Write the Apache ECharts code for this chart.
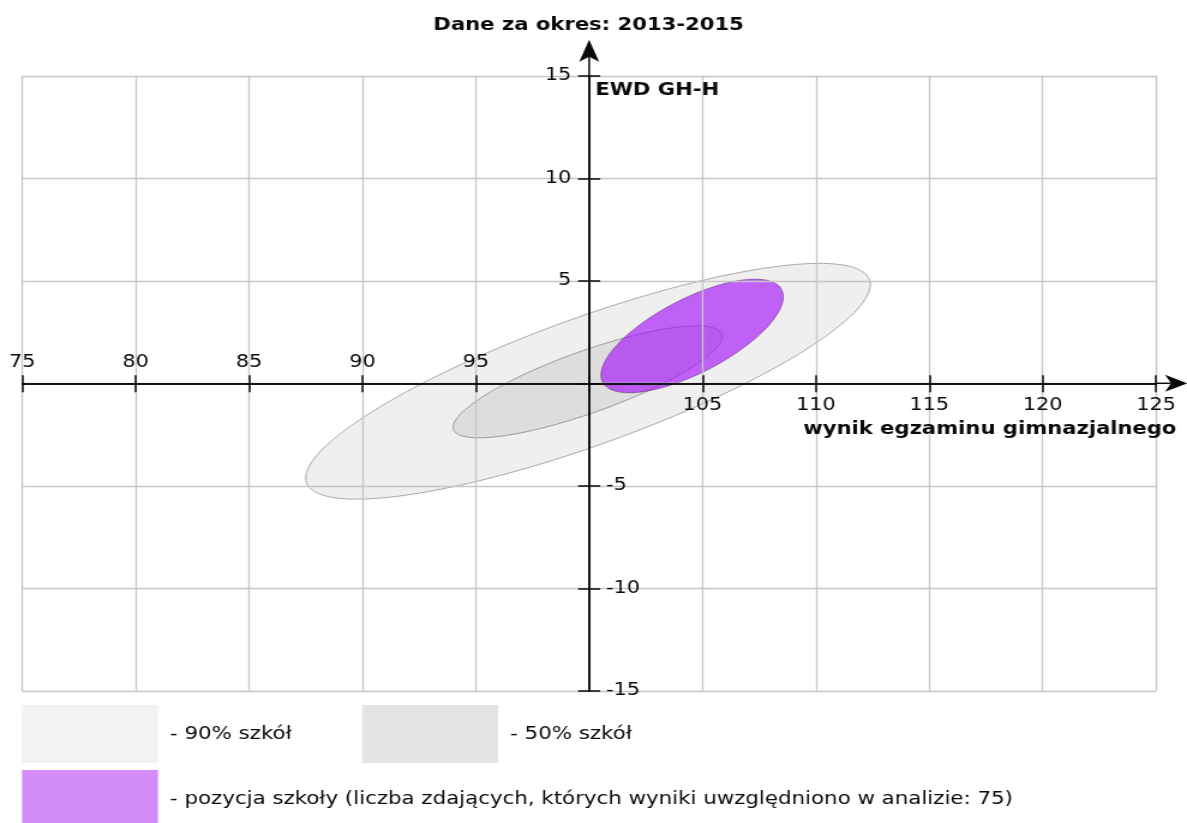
<!DOCTYPE html>
<html>
<head>
<meta charset="utf-8">
<script src="https://cdn.jsdelivr.net/npm/echarts@6/dist/echarts.min.js"></script>
<style>
html, body { margin: 0; padding: 0; background: #fff; overflow: hidden; }
/* the reference picture is stretched horizontally, so the chart is drawn narrower and widened */
#chart { width: 989px; height: 823px; transform: scaleX(1.2002); transform-origin: 0 0; }
</style>
</head>
<body>
<div id="chart"></div>
<script>
var okres = '2013-2015';
var liczbaZdajacych = 75;

//osie
var xMin = 75, xMax = 125, xKrok = 5;
var yMin = -15, yMax = 15, yKrok = 5;
var xPrzeciecie = 100;   // wynik, przy ktorym przechodzi os EWD

//elipsy: 90% szkol, 50% szkol, pozycja szkoly
var nazwy = ['90% szkół', '50% szkół',
	'pozycja szkoły (liczba zdających, których wyniki uwzględniono w analizie: ' + liczbaZdajacych + ')'];
var srodekX = [99.95, 99.93, 104.54];
var srodekY = [0.10, 0.07, 2.31];
var polosX = [12.45, 5.93, 4.02];
var polosY = [5.75, 2.73, 2.77];
var korelacja = [0.82, 0.81, 0.69];

var kolory = ['#efefef', '#dddddd', 'rgba(165, 20, 250, 0.65)'];
var obwody = ['#a9a9a9', '#9a9a9a', 'rgba(100, 40, 120, 0.55)'];
var koloryLegendy = ['#f2f2f2', '#e3e3e3', '#d48cfb'];

var font = 'DejaVu Sans';
var tekst = '#0a0a0a';

//obszar wykresu
var gridLeft = 18.6, gridTop = 75.8, gridWidth = 944.6, gridHeight = 615;
//przesuniecia osi do linii zerowych
var przesY = -gridHeight * (yMax - 0) / (yMax - yMin);
var przesX = -gridWidth * (xPrzeciecie - xMin) / (xMax - xMin);

function ellipseSeries(i) {
	return {
		type: 'custom',
		name: nazwy[i],
		z: 2,
		silent: true,
		itemStyle: { color: kolory[i] },
		data: [[srodekX[i] - xPrzeciecie, srodekY[i], polosX[i], polosY[i], korelacja[i]]],
		renderItem: function (params, api) {
			var cx = api.value(0), cy = api.value(1);
			var hx = api.value(2), hy = api.value(3), r = api.value(4);
			var s = Math.sqrt(1 - r * r);
			var points = [];
			for (var k = 0; k < 160; k++) {
				var t = k / 160 * Math.PI * 2;
				points.push(api.coord([cx + hx * Math.cos(t), cy + hy * (r * Math.cos(t) + s * Math.sin(t))]));
			}
			return {
				type: 'polygon',
				shape: { points: points },
				style: { fill: api.visual('color'), stroke: obwody[i], lineWidth: 1 }
			};
		}
	};
}

//przedluzenie osi ze strzalka
function renderArrow(params, api) {
	var base = api.coord([api.value(0), api.value(1)]);
	var poziomo = params.dataIndex === 0;
	var ext = poziomo ? 26 : 36;
	var L = poziomo ? 18.5 : 22;
	var W = poziomo ? 8.5 : 8.3;
	var dx = poziomo ? 1 : 0, dy = poziomo ? 0 : -1;
	var tip = [base[0] + dx * ext, base[1] + dy * ext];
	var back = [tip[0] - dx * L, tip[1] - dy * L];
	var notch = [tip[0] - dx * (L - 5), tip[1] - dy * (L - 5)];
	var p1 = [back[0] - dy * W, back[1] + dx * W];
	var p2 = [back[0] + dy * W, back[1] - dx * W];
	return {
		type: 'group',
		children: [
			{ type: 'line', shape: { x1: base[0], y1: base[1], x2: notch[0], y2: notch[1] }, style: { stroke: tekst, lineWidth: 1.5 } },
			{ type: 'polygon', shape: { points: [tip, p1, notch, p2] }, style: { fill: tekst } }
		]
	};
}

function xAxisDef(pozycja, pokaz, dlugosc, margines) {
	return {
		type: 'value', gridIndex: 0, position: pozycja, offset: przesY, z: 5,
		min: xMin - xPrzeciecie, max: xMax - xPrzeciecie, interval: xKrok,
		axisLine: { show: true, onZero: false, lineStyle: { color: tekst, width: 1.5 } },
		axisTick: { show: true, length: dlugosc, lineStyle: { color: tekst, width: 1.5 } },
		axisLabel: {
			margin: margines, color: tekst, fontFamily: font, fontSize: 17.3,
			showMinLabel: true, showMaxLabel: true,
			formatter: function (v) { return pokaz(v) ? String(v + xPrzeciecie) : ''; }
		},
		splitLine: { show: false }
	};
}

function yAxisDef(pozycja, pokaz, margines) {
	return {
		type: 'value', gridIndex: 0, position: pozycja, offset: przesX, z: 5,
		min: yMin, max: yMax, interval: yKrok,
		axisLine: { show: true, onZero: false, lineStyle: { color: tekst, width: 1.5 } },
		axisTick: { show: true, length: 9.2, lineStyle: { color: tekst, width: 1.5 } },
		axisLabel: {
			margin: margines, color: tekst, fontFamily: font, fontSize: 17.3,
			showMinLabel: true, showMaxLabel: true,
			formatter: function (v) { return pokaz(v) ? String(v) : ''; }
		},
		splitLine: { show: false }
	};
}

//tylko siatka
var siatka = { show: true, lineStyle: { color: '#c6c6c6', width: 1.3 } };
var tylkoSiatkaX = {
	type: 'value', gridIndex: 0, position: 'bottom', z: 3,
	min: xMin - xPrzeciecie, max: xMax - xPrzeciecie, interval: xKrok,
	axisLine: { show: false, onZero: false }, axisTick: { show: false }, axisLabel: { show: false },
	splitLine: siatka
};
var tylkoSiatkaY = {
	type: 'value', gridIndex: 0, position: 'left', z: 3,
	min: yMin, max: yMax, interval: yKrok,
	axisLine: { show: false, onZero: false }, axisTick: { show: false }, axisLabel: { show: false },
	splitLine: siatka
};

function legendDef(i, left, top) {
	return {
		left: left, top: top, padding: 0,
		orient: 'horizontal',
		icon: 'rect',
		itemWidth: 113.3, itemHeight: 58,
		selectedMode: false,
		formatter: '- {name}',
		textStyle: { color: tekst, fontFamily: font, fontSize: 17.8, padding: [0, 0, 0, 5] },
		data: [{ name: nazwy[i], itemStyle: { color: koloryLegendy[i], borderWidth: 0 } }]
	};
}

var myChart = echarts.init(document.getElementById('chart'), null, { renderer: 'canvas' });

var option = {
	backgroundColor: '#fff',
	animation: false,
	textStyle: { fontFamily: font },
	grid: { left: gridLeft, top: gridTop, width: gridWidth, height: gridHeight, containLabel: false, outerBoundsMode: 'none' },
	xAxis: [
		xAxisDef('bottom', function (v) { return v > 0; }, 9, 14),
		xAxisDef('top', function (v) { return v < 0; }, 8, 12),
		tylkoSiatkaX
	],
	yAxis: [
		yAxisDef('left', function (v) { return v > 0; }, 15),
		yAxisDef('right', function (v) { return v < 0; }, 14),
		tylkoSiatkaY
	],
	legend: [
		legendDef(0, 18.3, 705),
		legendDef(1, 301.7, 705),
		legendDef(2, 18.3, 770)
	],
	series: [
		ellipseSeries(0),
		ellipseSeries(1),
		ellipseSeries(2),
		{
			type: 'custom',
			z: 6,
			silent: true,
			clip: false,
			data: [[xMax - xPrzeciecie, 0], [0, yMax]],
			renderItem: renderArrow
		}
	]
};
myChart.setOption(option);

//tytul i nazwy osi wzgledem polozenia osi
var gora = myChart.convertToPixel({ xAxisIndex: 0, yAxisIndex: 0 }, [0, yMax]);
var koniecX = myChart.convertToPixel({ xAxisIndex: 0, yAxisIndex: 0 }, [xMax - xPrzeciecie, 0]);
var pogrubiony = { fill: tekst, fontFamily: font, fontSize: 17.6, fontWeight: 'bold' };
myChart.setOption({
	graphic: [
		{ type: 'text', x: gora[0] - 0.5, y: 25.5, z: 10,
			style: echarts.util.extend({ text: 'Dane za okres: ' + okres, align: 'center', verticalAlign: 'middle' }, pogrubiony) },
		{ type: 'text', x: gora[0] + 5, y: gora[1] + 14.5, z: 10,
			style: echarts.util.extend({ text: 'EWD GH-H', align: 'left', verticalAlign: 'middle' }, pogrubiony) },
		{ type: 'text', x: koniecX[0] + 17, y: koniecX[1] + 46, z: 10,
			style: echarts.util.extend({ text: 'wynik egzaminu gimnazjalnego', align: 'right', verticalAlign: 'middle' }, pogrubiony) }
	]
});
</script>
</body>
</html>
